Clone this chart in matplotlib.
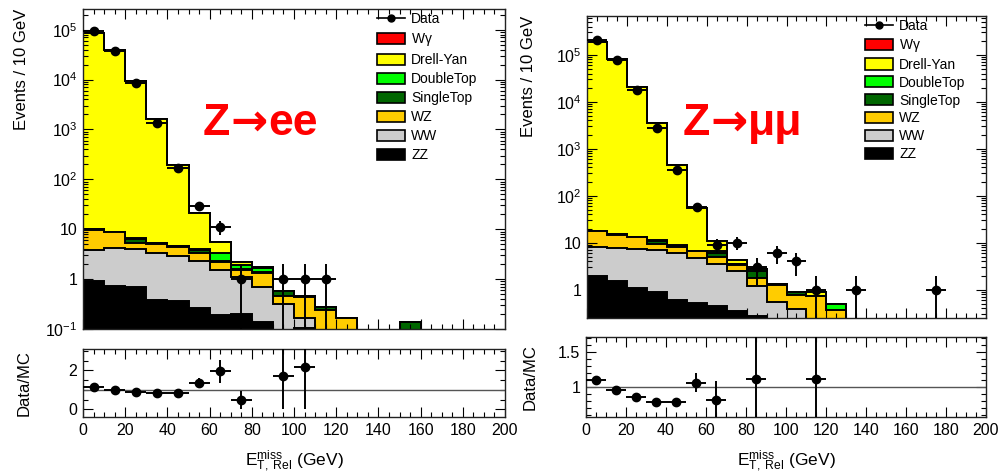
# met_rel.py, e_t^miss rel control plots for z->ee and z->mumu
# outputs: out.png

import numpy as np
import matplotlib
matplotlib.use("Agg")
import matplotlib.pyplot as plt
from matplotlib.lines import Line2D
from matplotlib.patches import Patch
from matplotlib.ticker import MultipleLocator, FixedLocator, FuncFormatter, NullFormatter, LogLocator

plt.rcParams["font.family"] = ["Liberation Sans", "DejaVu Sans"]
plt.rcParams["mathtext.fontset"] = "custom"
plt.rcParams["mathtext.rm"] = "Liberation Sans"
plt.rcParams["mathtext.it"] = "Liberation Sans:italic"
plt.rcParams["mathtext.default"] = "regular"

# ── binning (10 gev bins, 0-200) ──────────────────────────────────────────────
edges   = np.arange(0, 210, 10)
centers = edges[:-1] + 5

# ── z -> ee (per-bin yields) ─────────────────────────────────────────────────
ee_zz  = [0.90, 0.74, 0.69, 0.38, 0.36, 0.26, 0.195, 0.20, 0.137, 0, 0.107, 0, 0, 0, 0, 0, 0, 0, 0, 0]
ee_ww  = [2.9, 3.5, 3.3, 3.0, 2.6, 2.0, 1.3, 0.9, 0.56, 0.32, 0.06, 0, 0, 0, 0, 0, 0, 0, 0, 0]
ee_wz  = [5.9, 4.4, 1.4, 1.6, 1.35, 1.1, 0.69, 0.39, 0.63, 0.13, 0.28, 0.245, 0.17, 0, 0, 0, 0, 0, 0, 0]
ee_st  = [0.2, 0.2, 1.1, 0.23, 0.2, 0.5, 0.08, 0.12, 0.07, 0.14, 0, 0.025, 0, 0, 0, 0.137, 0, 0, 0, 0]
ee_dt  = [0.1, 0.1, 0.1, 0.1, 0.1, 0.1, 1.15, 0.35, 0.27, 0, 0, 0, 0, 0, 0, 0, 0, 0, 0, 0]
ee_dy  = [8.4e4, 3.85e4, 9.5e3, 1.6e3, 191, 17.5, 2.2, 0.22, 0.11, 0, 0.01, 0.01, 0, 0, 0, 0, 0, 0, 0, 0]
ee_wg  = [0] * 20
ee_data = [95000, 38000, 8400, 1340, 168, 29, 11, 1, 0, 1, 1, 1, 0, 0, 0, 0, 0, 0, 0, 0]

# ── z -> mumu ─────────────────────────────────────────────────────────────────
mm_zz  = [2.0, 1.5, 1.09, 0.89, 0.61, 0.52, 0.44, 0.35, 0.28, 0, 0, 0, 0, 0, 0, 0, 0, 0, 0, 0]
mm_ww  = [6.1, 6.2, 6.3, 6.2, 5.4, 4.2, 3.1, 2.1, 0.9, 0.56, 0.39, 0, 0, 0, 0, 0, 0, 0, 0, 0]
mm_wz  = [9.3, 7.1, 5.55, 2.3, 2.3, 1.8, 1.4, 0.95, 0.6, 0.72, 0.39, 0.72, 0.375, 0, 0, 0, 0, 0, 0, 0]
mm_st  = [0.2, 0.2, 0.2, 1.6, 0.4, 0.1, 1.2, 0.1, 0.73, 0.05, 0.1, 0, 0, 0, 0, 0, 0, 0, 0, 0]
mm_dt  = [0.1, 0.1, 0.1, 0.2, 0.1, 0.1, 0.5, 0.1, 0.2, 0, 0, 0, 0.125, 0, 0, 0, 0, 0, 0, 0]
mm_dy  = [1.87e5, 8.1e4, 2.05e4, 3.5e3, 447, 48, 4.4, 0.75, 0, 0, 0, 0.18, 0, 0, 0, 0, 0, 0, 0, 0]
mm_wg  = [0] * 20
mm_data = [205000, 77000, 17400, 2760, 357, 58, 9, 10, 3, 6, 4, 1, 0, 1, 0, 0, 0, 1, 0, 0]

# stack order, bottom -> top
names  = ["ZZ", "WW", "WZ", "SingleTop", "DoubleTop", "Drell-Yan", "W$\\gamma$"]
colors = {
    "ZZ":         "#000000",
    "WW":         "#cccccc",
    "WZ":         "#ffcc00",
    "SingleTop":  "#006600",
    "DoubleTop":  "#00ff00",
    "Drell-Yan":  "#ffff00",
    "W$\\gamma$": "#ff0000",
}

W, H = 1004, 475
fig = plt.figure(figsize=(W / 100, H / 100), dpi=100, facecolor="white")

def px_axes(x0, y0, x1, y1):
    # pixel box (top-left origin) -> figure axes
    return fig.add_axes([x0 / W, 1 - y1 / H, (x1 - x0) / W, (y1 - y0) / H])

def log_label(v, pos):
    e = int(round(np.log10(v)))
    return {0: "1", 1: "10"}.get(e, f"$10^{{{e}}}$")

def style(ax):
    ax.tick_params(which="both", direction="in", top=True, right=True,
                   labelsize=11.5, width=0.8, pad=4)
    ax.tick_params(which="major", length=7)
    ax.tick_params(which="minor", length=3.5)
    for s in ax.spines.values():
        s.set_linewidth(1.0)
        s.set_color("#222222")
    ax.set_xlim(0, 200)
    ax.xaxis.set_major_locator(MultipleLocator(20))
    ax.xaxis.set_minor_locator(MultipleLocator(5))

def tag_text(x_arrow, y_base, lhs, rhs):
    # channel tag, built from three pieces so the arrow can be the heavy dejavu one
    kw = dict(color="red", fontsize=32, fontweight="bold", va="baseline")
    fig.text((x_arrow - 19) / W, 1 - y_base / H, lhs, ha="right", **kw)
    fig.text(x_arrow / W, 1 - y_base / H, "\u2192", ha="center", family="DejaVu Sans", **kw)
    fig.text((x_arrow + 19) / W, 1 - y_base / H, rhs, ha="left", **kw)

def draw(box_main, box_ratio, comps, data, ylim, rlim, rmajor, rminor, leg_xy, leg_space):
    ax  = px_axes(*box_main)
    axr = px_axes(*box_ratio)

    stack = np.cumsum(np.array(comps, dtype=float), axis=0)
    floor = 1e-4
    for layer, name in reversed(list(zip(stack, names))):
        vals = np.where(layer > 0, layer, floor)
        ax.stairs(vals, edges, baseline=floor, fill=True,
                  facecolor=colors[name], edgecolor="black", linewidth=1.4)

    data = np.array(data, dtype=float)
    m    = data > 0
    err  = np.sqrt(data)
    lo   = np.minimum(err, data - 1e-3)
    ax.errorbar(centers[m], data[m], xerr=5, yerr=[lo[m], err[m]], fmt="o",
                color="black", ms=6, lw=1.4, capsize=0, zorder=5)

    ax.set_yscale("log")
    ax.set_ylim(*ylim)
    style(ax)
    ax.tick_params(labelbottom=False)
    # only the decades inside the frame get a label
    dec = 10.0 ** np.arange(np.ceil(np.log10(ylim[0])), np.floor(np.log10(ylim[1])) + 1)
    ax.yaxis.set_major_locator(FixedLocator(dec))
    ax.yaxis.set_major_formatter(FuncFormatter(log_label))
    ax.yaxis.set_minor_locator(LogLocator(base=10, subs=np.arange(2, 10), numticks=12))
    ax.yaxis.set_minor_formatter(NullFormatter())
    ax.set_ylabel("Events / 10 GeV", loc="top", fontsize=12)
    ax.yaxis.set_label_coords(-0.128, 1.0)

    # legend
    handles = [Line2D([0], [0], color="black", marker="o", ms=5, lw=1.2)]
    labels  = ["Data"]
    for name in reversed(names):
        handles.append(Patch(facecolor=colors[name], edgecolor="black", linewidth=1.2))
        labels.append(name)
    ax.legend(handles, labels, loc="upper left", bbox_to_anchor=(leg_xy[0] / W, 1 - leg_xy[1] / H),
              bbox_transform=fig.transFigure, frameon=False, fontsize=10, borderpad=0,
              handlelength=2.0, handleheight=0.85, handletextpad=0.45,
              labelspacing=leg_space, borderaxespad=0)

    # ── ratio panel ──
    mc  = stack[-1]
    ok  = (data > 0) & (mc > 0)
    rat = np.where(ok, data / np.where(mc > 0, mc, 1), np.nan)
    rer = np.where(ok, err / np.where(mc > 0, mc, 1), np.nan)
    vis = ok & (rat > rlim[0]) & (rat < rlim[1])
    axr.axhline(1, color="#555555", lw=1.0)
    axr.errorbar(centers[vis], rat[vis], xerr=5, yerr=rer[vis], fmt="o",
                 color="black", ms=6, lw=1.4, capsize=0, zorder=5)
    axr.set_ylim(*rlim)
    style(axr)
    axr.yaxis.set_major_locator(MultipleLocator(rmajor))
    axr.yaxis.set_minor_locator(MultipleLocator(rminor))
    axr.yaxis.set_major_formatter(FuncFormatter(lambda v, p: f"{v:g}"))
    axr.set_ylabel("Data/MC", fontsize=12)
    rh = box_ratio[3] - box_ratio[1]
    axr.yaxis.set_label_coords(-0.122, 0.5)
    axr.set_xlabel(r"$E_{T,\ Rel}^{miss}$ (GeV)", fontsize=12.5)
    axr.xaxis.set_label_coords(0.5, -31 / rh)
    return ax, axr

draw((83, 9, 505, 329), (83, 349, 505, 417),
     [ee_zz, ee_ww, ee_wz, ee_st, ee_dt, ee_dy, ee_wg], ee_data,
     ylim=(0.1, 2.6e5), rlim=(-0.4, 3.1), rmajor=2, rminor=0.5,
     leg_xy=(377, 12), leg_space=0.36)
tag_text(249, 135, "Z", "ee")

draw((587, 16, 986, 318), (586, 337, 986, 417),
     [mm_zz, mm_ww, mm_wz, mm_st, mm_dt, mm_dy, mm_wg], mm_data,
     ylim=(0.25, 6.7e5), rlim=(0.57, 1.71), rmajor=0.5, rminor=0.1,
     leg_xy=(865, 19), leg_space=0.28)
tag_text(729, 135, "Z", "\u03bc\u03bc")

fig.savefig("out.png", dpi=100)
plt.close(fig)
print("saved -> out.png")
